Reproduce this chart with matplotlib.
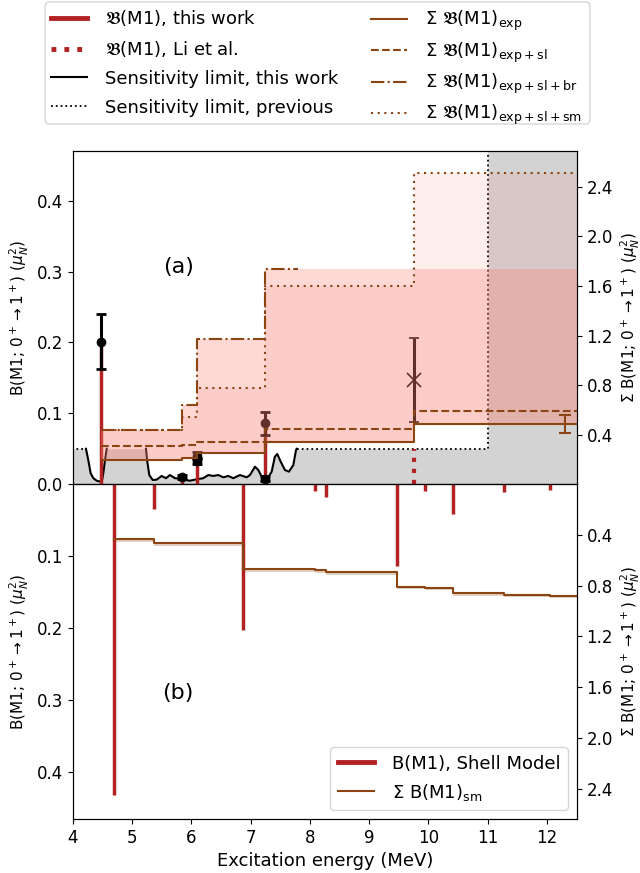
import numpy as np
import matplotlib
matplotlib.use("Agg")
import matplotlib.pyplot as plt
from matplotlib.lines import Line2D
from matplotlib.patches import FancyBboxPatch

plt.rcParams['font.family'] = ['DejaVu Sans']
plt.rcParams['mathtext.fontset'] = 'dejavusans'

RED = '#b22222'
BROWN = '#8b4513'
GRAY = '#d3d3d3'
PINK = 'salmon'

# ---- panel (a): measured strengths, this work ----
E_exp = [4.47, 5.84, 6.09, 7.25]
B_exp = [0.200, 0.010, 0.038, 0.086]

# measured points with asymmetric uncertainties
pt_E = [4.47, 5.84, 6.09, 6.09, 7.25, 7.25]
pt_B = [0.200, 0.010, 0.040, 0.033, 0.086, 0.008]
pt_lo = [0.037, 0.003, 0.005, 0.004, 0.017, 0.004]
pt_hi = [0.040, 0.003, 0.005, 0.004, 0.016, 0.004]

# tentative level
tent_E = [9.76]
tent_B = [0.147]
tent_err = [0.059]

# Li et al.
li_E = [9.76]
li_B = [0.050]

# sensitivity limit of this work
sens_E = [4.224, 4.263, 4.303, 4.348, 4.405, 4.449, 4.494, 4.516, 4.545, 4.573,
          4.750, 5.000, 5.236, 5.258, 5.292, 5.349, 5.416, 5.500, 5.573, 5.640,
          5.725, 5.800, 5.900, 5.978, 6.090, 6.200, 6.287, 6.370, 6.455, 6.540,
          6.624, 6.708, 6.820, 6.934, 6.990, 7.074, 7.130, 7.187, 7.270, 7.356,
          7.410, 7.450, 7.507, 7.580, 7.647, 7.720, 7.766, 7.777]
sens_B = [0.050, 0.034, 0.0155, 0.0085, 0.005, 0.004, 0.005, 0.0155, 0.034, 0.050,
          0.120, 0.140, 0.050, 0.032, 0.013, 0.006, 0.0065, 0.0117, 0.0085, 0.013,
          0.0085, 0.008, 0.006, 0.005, 0.007, 0.0085, 0.013, 0.0117, 0.013, 0.0098,
          0.0117, 0.0085, 0.013, 0.0098, 0.013, 0.0248, 0.0201, 0.0107, 0.006, 0.0178,
          0.039, 0.0427, 0.032, 0.020, 0.0178, 0.027, 0.048, 0.050]

# previous sensitivity limit
prev_level = 0.05
prev_E_start = 4.0
prev_E_end = 11.0

# cumulative strengths (right axis)
sum_E = [4.47, 5.84, 6.09, 7.25, 9.75]
sum_exp = [0.196, 0.210, 0.251, 0.344, 0.487]
sum_exp_sl = [0.309, 0.318, 0.344, 0.444, 0.592]
sum_exp_sl_br = [0.439, 0.641, 1.172, 1.737, 1.737]
sum_exp_sl_sm = [0.439, 0.540, 0.776, 1.597, 2.513]
br_E_end = 7.80
sum_exp_err_E = 12.30
sum_exp_err = 0.07

# ---- panel (b): shell model ----
E_sm = [4.70, 5.37, 6.88, 8.09, 8.27, 9.47, 9.94, 10.41, 11.27, 12.05]
B_sm = [0.432, 0.035, 0.202, 0.009, 0.018, 0.113, 0.009, 0.041, 0.011, 0.008]

x_min, x_max = 4.0, 12.5
ya_top, ya2_top = 0.47, 2.69
yb_bot, yb2_bot = 0.465, 2.64

fig = plt.figure(figsize=(6.4, 8.73), dpi=100)
ax_a = fig.add_axes([0.1136, 0.4453, 0.7875, 0.3818])
ax_b = fig.add_axes([0.1136, 0.0619, 0.7875, 0.3834], sharex=ax_a)
ax_a2 = ax_a.twinx()
ax_b2 = ax_b.twinx()

# --- gray excluded region (below the sensitivity limits) ---
sens_B_arr = np.array(sens_B)
gx = [prev_E_start] + sens_E + [prev_E_end, prev_E_end, x_max]
gy = [prev_level] + list(np.minimum(sens_B_arr, prev_level)) + [prev_level, ya_top, ya_top]
ax_a.fill_between(gx, 0, gy, color=GRAY, lw=0, zorder=1)

sens_line = np.ma.masked_where(sens_B_arr > prev_level + 1e-9, sens_B_arr)
ax_a.plot(sens_E, sens_line, color='k', lw=1.5, zorder=3)
ax_a.plot([prev_E_start, prev_E_start, sens_E[0]], [ya_top, prev_level, prev_level],
          color='k', ls=':', lw=1.3, zorder=3)
ax_a.plot([sens_E[-1], prev_E_end, prev_E_end], [prev_level, prev_level, ya_top],
          color='k', ls=':', lw=1.3, zorder=3)

# --- strengths ---
ax_a.vlines(E_exp, 0, B_exp, color=RED, lw=2.5, zorder=4)
ax_a.vlines(li_E, 0, li_B, color=RED, lw=3, linestyles=':', zorder=4)
ax_a.errorbar(pt_E, pt_B, yerr=[pt_lo, pt_hi], fmt='o', color='k', ms=6,
              elinewidth=2.2, capsize=3.5, capthick=2, zorder=5)
ax_a.errorbar(tent_E, tent_B, yerr=tent_err, fmt='x', color='k', ms=10, mew=1.2,
              elinewidth=2.2, capsize=3.5, capthick=2, zorder=5)

ax_a.set_xlim(x_min, x_max)
ax_a.set_ylim(0, ya_top)
ax_a.set_yticks([0.0, 0.1, 0.2, 0.3, 0.4])
ax_a.tick_params(axis='x', bottom=False, labelbottom=False)
ax_a.tick_params(axis='y', labelsize=12)

# --- cumulative sums ---
def ext(v):
    return list(v) + [v[-1]]

sx = sum_E + [x_max]
ax_a2.fill_between(sx, ext(sum_exp), ext(sum_exp_sl_br), step='post',
                   color=PINK, alpha=0.3, lw=0)
ax_a2.fill_between(sx, ext(sum_exp), ext(sum_exp_sl_sm), step='post',
                   color=PINK, alpha=0.12, lw=0)
ax_a2.step(sx, ext(sum_exp), where='post', color=BROWN, lw=1.5)
ax_a2.step(sx, ext(sum_exp_sl), where='post', color=BROWN, lw=1.5, ls='--')
br_x = sum_E[:4] + [br_E_end]
br_y = sum_exp_sl_br[:4] + [sum_exp_sl_br[3]]
ax_a2.step(br_x, br_y, where='post', color=BROWN, lw=1.5, ls='-.')
ax_a2.step(sx, ext(sum_exp_sl_sm), where='post', color=BROWN, lw=1.5, ls=(0, (1, 2.2)))
ax_a2.errorbar([sum_exp_err_E], [sum_exp[-1]], yerr=sum_exp_err, fmt='none',
               ecolor=BROWN, elinewidth=1.5, capsize=4, capthick=1.5)
ax_a2.set_ylim(0, ya2_top)
ax_a2.set_yticks([0.4, 0.8, 1.2, 1.6, 2.0, 2.4])
ax_a2.tick_params(axis='y', labelsize=12)

ylab = r'B(M1; 0$^+$$\rightarrow$1$^+$) ($\mu_N^2$)'
ylab_sum = r'$\Sigma$ B(M1; 0$^+$$\rightarrow$1$^+$) ($\mu_N^2$)'
ax_a.set_ylabel(ylab, fontsize=11)
ax_a2.set_ylabel(ylab_sum, fontsize=11)
ax_a.text(5.78, 0.307, '(a)', fontsize=16, ha='center', va='center')

# --- panel (b) ---
ax_b.vlines(E_sm, 0, B_sm, color=RED, lw=2.5)
ax_b.set_ylim(yb_bot, 0)
ax_b.set_yticks([0.1, 0.2, 0.3, 0.4])
ax_b.set_xticks(range(4, 13))
ax_b.tick_params(labelsize=12)
cum_sm = list(np.cumsum(B_sm))
bx = E_sm + [x_max]
ax_b2.fill_between(bx, ext(cum_sm), [c + 0.02 for c in ext(cum_sm)], step='post',
                   color=BROWN, alpha=0.25, lw=0)
ax_b2.step(bx, ext(cum_sm), where='post', color=BROWN, lw=1.5)
ax_b2.set_ylim(yb2_bot, 0)
ax_b2.set_yticks([0.4, 0.8, 1.2, 1.6, 2.0, 2.4])
ax_b2.tick_params(axis='y', labelsize=12)
ax_b.set_ylabel(ylab, fontsize=11)
ax_b2.set_ylabel(ylab_sum, fontsize=11)
ax_b.set_xlabel('Excitation energy (MeV)', fontsize=13)
ax_b.text(5.78, 0.29, '(b)', fontsize=16, ha='center', va='center')

hb = [Line2D([], [], color=RED, lw=3.5),
      Line2D([], [], color=BROWN, lw=1.5)]
ax_b2.legend(hb, ['B(M1), Shell Model', r'$\Sigma$ B(M1)$_\mathrm{sm}$'],
             loc='lower right', fontsize=13, handletextpad=1.0)

# --- figure legend: two columns inside one shared frame ---
frak = r'$\mathfrak{B}$(M1)'
handles_l = [Line2D([], [], color=RED, lw=3.5),
             Line2D([], [], color=RED, lw=3.5, ls=':'),
             Line2D([], [], color='k', lw=1.5),
             Line2D([], [], color='k', lw=1.3, ls=':')]
labels_l = [frak + ', this work',
            frak + ', Li et al.',
            'Sensitivity limit, this work',
            'Sensitivity limit, previous']
handles_r = [Line2D([], [], color=BROWN, lw=1.5),
             Line2D([], [], color=BROWN, lw=1.5, ls='--'),
             Line2D([], [], color=BROWN, lw=1.5, ls='-.'),
             Line2D([], [], color=BROWN, lw=1.5, ls=(0, (1, 2.2)))]
labels_r = [r'$\Sigma$ ' + frak + r'$_\mathrm{exp}$',
            r'$\Sigma$ ' + frak + r'$_\mathrm{exp+sl}$',
            r'$\Sigma$ ' + frak + r'$_\mathrm{exp+sl+br}$',
            r'$\Sigma$ ' + frak + r'$_\mathrm{exp+sl+sm}$']

frame = FancyBboxPatch((45 / 640, 1 - 124 / 873), 545 / 640, 122 / 873,
                       boxstyle='round,pad=0,rounding_size=0.006',
                       transform=fig.transFigure, fc='white', ec='0.8',
                       lw=1.0, alpha=0.8, zorder=4)
fig.add_artist(frame)
fig.legend(handles_l, labels_l, loc='upper left', bbox_to_anchor=(0.080, 0.9907),
           borderaxespad=0, borderpad=0, frameon=False, fontsize=13,
           handletextpad=1.0, labelspacing=0.6)
fig.legend(handles_r, labels_r, loc='upper left', bbox_to_anchor=(0.580, 0.9897),
           borderaxespad=0, borderpad=0, frameon=False, fontsize=13,
           handletextpad=1.0, labelspacing=0.4)

fig.savefig('out.png', dpi=100)
